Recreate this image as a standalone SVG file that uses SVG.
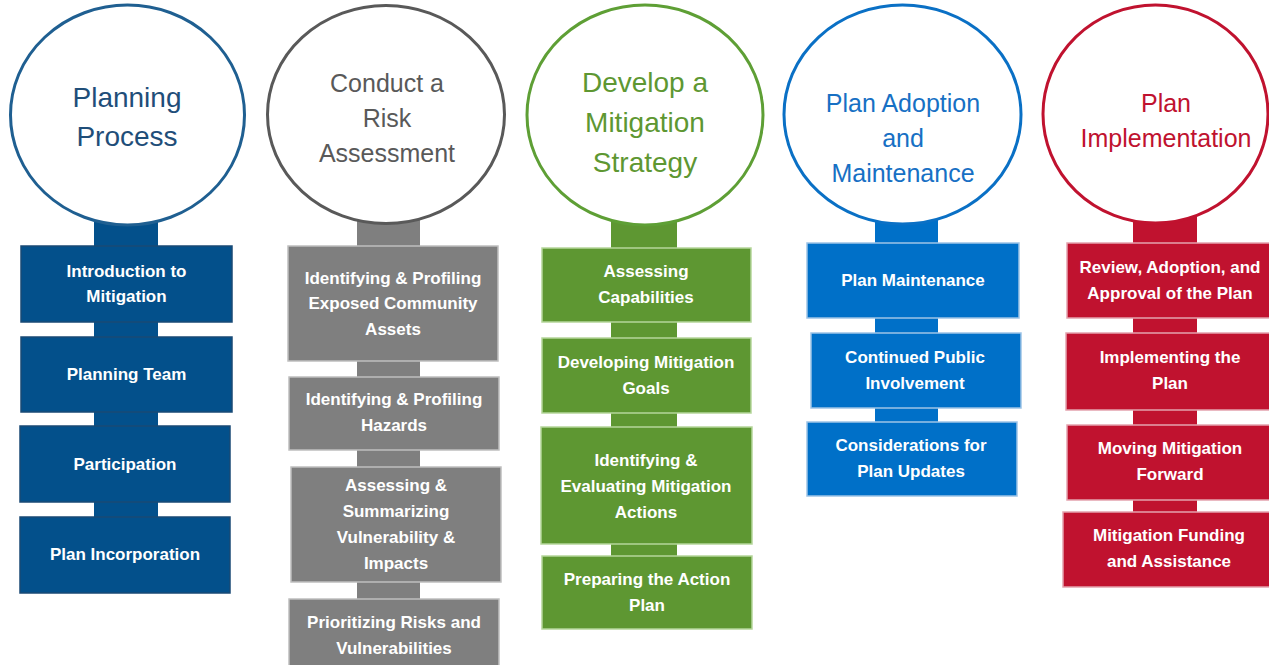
<svg xmlns="http://www.w3.org/2000/svg" width="1269" height="665" viewBox="0 0 1269 665">
<style>
  .title { font-family: "Liberation Sans", Arial, sans-serif; text-anchor: middle; }
  .lbl { font-family: "Liberation Sans", Arial, sans-serif; font-weight: bold; font-size: 17px; fill: #ffffff; text-anchor: middle; }
  .circ { fill: #ffffff; stroke-width: 3; }
  .box { stroke-width: 1.5; }
  .c1 { fill: #03508B; } .c1s { stroke: #1A4A75; }
  .c2 { fill: #7F7F7F; } .c2s { stroke: #BFBFBF; }
  .c3 { fill: #5E9732; } .c3s { stroke: #B5D69B; }
  .c4 { fill: #0070C8; } .c4s { stroke: #9DC3E6; }
  .c5 { fill: #C0122F; } .c5s { stroke: #E3A3AE; }
</style>
<rect width="1269" height="665" fill="#ffffff"/>
<g id="connectors">
  <rect class="c1" x="94" y="200" width="64" height="330"/>
  <rect class="c2" x="357" y="200" width="63" height="410"/>
  <rect class="c3" x="611" y="200" width="66" height="370"/>
  <rect class="c4" x="875" y="200" width="63" height="235"/>
  <rect class="c5" x="1133" y="200" width="64" height="325"/>
</g>
<g id="col1">
  <ellipse class="circ" cx="127.5" cy="115" rx="117" ry="110" stroke="#1F5F91"/>
  <text class="title" font-size="28" fill="#1F4E79"><tspan x="127" y="107">Planning</tspan><tspan x="127" y="146">Process</tspan></text>
</g>
<g id="c1b1"><rect class="box c1 c1s" x="21" y="246" width="211" height="76"/><text class="lbl"><tspan x="126.5" y="277">Introduction to</tspan><tspan x="126.5" y="302">Mitigation</tspan></text></g>
<g id="c1b2"><rect class="box c1 c1s" x="21" y="337" width="211" height="75"/><text class="lbl" x="126.5" y="380">Planning Team</text></g>
<g id="c1b3"><rect class="box c1 c1s" x="20" y="426" width="210" height="76"/><text class="lbl" x="125" y="470">Participation</text></g>
<g id="c1b4"><rect class="box c1 c1s" x="20" y="517" width="210" height="76"/><text class="lbl" x="125" y="560">Plan Incorporation</text></g>

<g id="col2">
  <ellipse class="circ" cx="386" cy="114.5" rx="118.5" ry="109" stroke="#595959"/>
  <text class="title" font-size="25" fill="#595959"><tspan x="387" y="92">Conduct a</tspan><tspan x="387" y="127">Risk</tspan><tspan x="387" y="162">Assessment</tspan></text>
</g>
<g id="c2b1"><rect class="box c2 c2s" x="288" y="246" width="210" height="115"/><text class="lbl"><tspan x="393" y="283.5">Identifying &amp; Profiling</tspan><tspan x="393" y="309">Exposed Community</tspan><tspan x="393" y="334.5">Assets</tspan></text></g>
<g id="c2b2"><rect class="box c2 c2s" x="289" y="377" width="210" height="73"/><text class="lbl"><tspan x="394" y="405">Identifying  &amp; Profiling</tspan><tspan x="394" y="431">Hazards</tspan></text></g>
<g id="c2b3"><rect class="box c2 c2s" x="291" y="467" width="210" height="115"/><text class="lbl"><tspan x="396" y="491">Assessing &amp;</tspan><tspan x="396" y="517">Summarizing</tspan><tspan x="396" y="543">Vulnerability &amp;</tspan><tspan x="396" y="569">Impacts</tspan></text></g>
<g id="c2b4"><rect class="box c2 c2s" x="289" y="599" width="210" height="73"/><text class="lbl"><tspan x="394" y="628">Prioritizing  Risks and</tspan><tspan x="394" y="654">Vulnerabilities</tspan></text></g>

<g id="col3">
  <ellipse class="circ" cx="645" cy="115" rx="118" ry="110" stroke="#5E9F35"/>
  <text class="title" font-size="28" fill="#5E9732"><tspan x="645" y="92">Develop a</tspan><tspan x="645" y="132">Mitigation</tspan><tspan x="645" y="172">Strategy</tspan></text>
</g>
<g id="c3b1"><rect class="box c3 c3s" x="542" y="248" width="209" height="74"/><text class="lbl"><tspan x="646" y="277">Assessing</tspan><tspan x="646" y="303">Capabilities</tspan></text></g>
<g id="c3b2"><rect class="box c3 c3s" x="542" y="338" width="209" height="75"/><text class="lbl"><tspan x="646" y="368">Developing Mitigation</tspan><tspan x="646" y="394">Goals</tspan></text></g>
<g id="c3b3"><rect class="box c3 c3s" x="541" y="427" width="211" height="117"/><text class="lbl"><tspan x="646" y="466">Identifying &amp;</tspan><tspan x="646" y="492">Evaluating Mitigation</tspan><tspan x="646" y="518">Actions</tspan></text></g>
<g id="c3b4"><rect class="box c3 c3s" x="542" y="556" width="210" height="73"/><text class="lbl"><tspan x="647" y="585">Preparing the Action</tspan><tspan x="647" y="611">Plan</tspan></text></g>

<g id="col4">
  <ellipse class="circ" cx="902.5" cy="114.5" rx="118.5" ry="109.5" stroke="#0A70C5"/>
  <text class="title" font-size="25" fill="#1770C4"><tspan x="903" y="112">Plan Adoption</tspan><tspan x="903" y="147">and</tspan><tspan x="903" y="182">Maintenance</tspan></text>
</g>
<g id="c4b1"><rect class="box c4 c4s" x="807" y="243" width="212" height="75"/><text class="lbl" x="913" y="286">Plan Maintenance</text></g>
<g id="c4b2"><rect class="box c4 c4s" x="811" y="333" width="210" height="75"/><text class="lbl"><tspan x="915" y="363">Continued Public</tspan><tspan x="915" y="389">Involvement</tspan></text></g>
<g id="c4b3"><rect class="box c4 c4s" x="807" y="422" width="210" height="74"/><text class="lbl"><tspan x="911" y="451">Considerations for</tspan><tspan x="911" y="477">Plan Updates</tspan></text></g>

<g id="col5">
  <ellipse class="circ" cx="1155.5" cy="114" rx="112.5" ry="109" stroke="#C0122F"/>
  <text class="title" font-size="25" fill="#C0122F"><tspan x="1166" y="112">Plan</tspan><tspan x="1166" y="147">Implementation</tspan></text>
</g>
<g id="c5b1"><rect class="box c5 c5s" x="1067" y="243" width="208" height="75"/><text class="lbl"><tspan x="1170" y="273">Review, Adoption, and</tspan><tspan x="1170" y="299">Approval of the Plan</tspan></text></g>
<g id="c5b2"><rect class="box c5 c5s" x="1066" y="333" width="208" height="77"/><text class="lbl"><tspan x="1170" y="363">Implementing the</tspan><tspan x="1170" y="389">Plan</tspan></text></g>
<g id="c5b3"><rect class="box c5 c5s" x="1067" y="425" width="208" height="75"/><text class="lbl"><tspan x="1170" y="454">Moving Mitigation</tspan><tspan x="1170" y="480">Forward</tspan></text></g>
<g id="c5b4"><rect class="box c5 c5s" x="1063" y="512" width="212" height="75"/><text class="lbl"><tspan x="1169" y="541">Mitigation Funding</tspan><tspan x="1169" y="567">and Assistance</tspan></text></g>
</svg>
